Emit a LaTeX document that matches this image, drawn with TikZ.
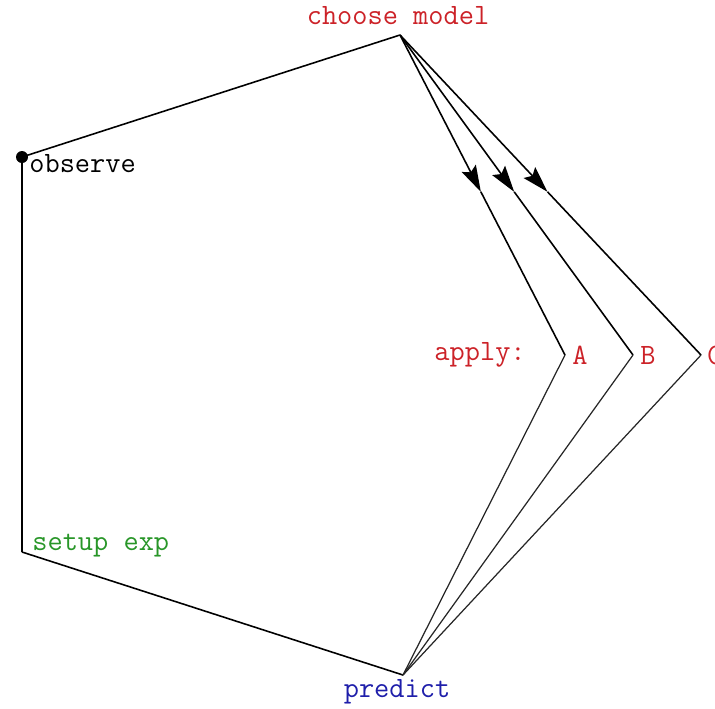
\documentclass[tikz,border=0pt]{standalone}
\usepackage{fontspec}
\usetikzlibrary{arrows.meta,calc}
\definecolor{cyclered}  {RGB}{204,34,40}
\definecolor{cyclegreen}{RGB}{40,150,40}
\definecolor{cycleblue} {RGB}{30,30,170}

\begin{document}
\begin{tikzpicture}[
  x=0.02cm,y=-0.02cm,
  every node/.style={font=\ttfamily\fontsize{16.8}{18}\selectfont,inner sep=0pt},
  edge/.style={line width=0.9pt,black},
  thinedge/.style={line width=0.7pt,black!85},
  arr/.style={-{Stealth[length=15pt,width=9pt,inset=2.5pt]},line width=0.9pt},
]
\useasboundingbox (0,0) rectangle (715,708);

%% ── Cycle vertices ───────────────────────────────────────────────────────
\coordinate (observe) at (22,157);
\coordinate (choose)  at (400,35);
\coordinate (applyA)  at (565,355);
\coordinate (applyB)  at (633,355);
\coordinate (applyC)  at (701,355);
\coordinate (predict) at (403,675);
\coordinate (setup)   at (22,552);

%% ── Labels ───────────────────────────────────────────────────────────────
\node[cyclered] (lchoose) at (398,16) {choose model};
\node[anchor=west] (lobserve) at (29,164) {observe};
\node[cyclered,anchor=east] (lapply) at (526,355) {apply:};
\node[cyclered,anchor=west] (lA) at (572,355) {A};
\node[cyclered,anchor=west] (lB) at (640,355) {B};
\node[cyclered,anchor=west] (lC) at (707,355) {C};
\node[cyclegreen,anchor=west] (lsetup) at (32,546) {setup exp};
\node[cycleblue] (lpredict) at (397,692) {predict};

%% ── Outer path ───────────────────────────────────────────────────────────
\draw[edge] (setup) -- (observe) -- (choose);
\draw[edge] (setup) -- (predict);
\fill (observe) circle (6);

%% ── Branches to the three models ─────────────────────────────────────────
\foreach \m in {A,B,C}{
  \coordinate (mid\m) at ($(choose)!0.49!(apply\m)$);
  \draw[arr] (choose) -- (mid\m);
  \draw[edge] (mid\m) -- (apply\m);
  \draw[thinedge] (apply\m) -- (predict);
}

\end{tikzpicture}
\end{document}
